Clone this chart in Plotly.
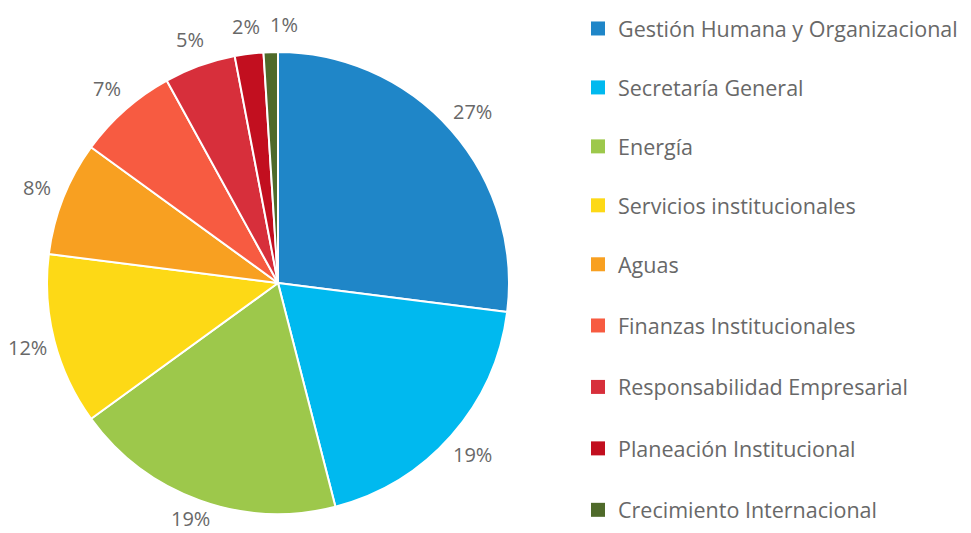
import math
import plotly.graph_objects as go

categories = ["Gestión Humana y Organizacional", "Secretaría General", "Energía",
              "Servicios institucionales", "Aguas", "Finanzas Institucionales",
              "Responsabilidad Empresarial", "Planeación Institucional",
              "Crecimiento Internacional"]
values = [27, 19, 19, 12, 8, 7, 5, 2, 1]
colors = ["#1F86C8", "#00B9EF", "#9DC84B", "#FDD916", "#F8A021",
          "#F75B41", "#D72F3B", "#C20F1F", "#4F6A2A"]

FONT = "Open Sans"
GRAY = "#686868"
W, H = 971, 533
OFF = 8  # page body margin offset

# pie placement (figure pixels)
CX, CY, R = 278 - OFF, 283 - OFF, 231
LABEL_R = 259
LABEL_FS = 20
MIN_SEP = 38  # minimal horizontal gap between neighbouring top labels

fig = go.Figure()
fig.add_trace(go.Pie(
    labels=categories, values=values, sort=False, direction="clockwise",
    rotation=0, marker=dict(colors=colors, line=dict(color="white", width=2)),
    textinfo="none", hoverinfo="label+percent",
    showlegend=False,
    domain=dict(x=[(CX - R) / W, (CX + R) / W],
                y=[1 - (CY + R) / H, 1 - (CY - R) / H]),
))

# percent labels around the pie, positioned from the data
total = sum(values)
cum = 0
pos = []
for v in values:
    mid = (cum + v / 2) / total * 2 * math.pi
    cum += v
    pos.append([CX + LABEL_R * math.sin(mid), CY - LABEL_R * math.cos(mid)])
# simple collision avoidance: push crowded labels apart horizontally
for i in range(1, len(pos)):
    dx = pos[i][0] - pos[i - 1][0]
    if abs(pos[i][1] - pos[i - 1][1]) < 20 and 0 <= dx < MIN_SEP:
        pos[i][0] = pos[i - 1][0] + MIN_SEP
# keep labels inside the visible page
half_box = LABEL_FS * 0.68
for p in pos:
    p[1] = min(p[1], H - OFF - half_box - 1)
for v, (px, py) in zip(values, pos):
    fig.add_annotation(x=px / W, y=1 - py / H, xref="paper", yref="paper",
                       text=f"{round(v / total * 100)}%", showarrow=False,
                       font=dict(family=FONT, size=LABEL_FS, color=GRAY),
                       xanchor="center", yanchor="middle")

for i, (c, col) in enumerate(zip(categories, colors)):
    fig.add_trace(go.Scatter(
        x=[None], y=[None], mode="markers", name=c,
        marker=dict(symbol="square", size=14, color=col),
        legendgroup=f"g{i}", showlegend=True,
        legend="legend" if i < 5 else "legend2",
    ))

leg = dict(xanchor="left", yanchor="top",
           font=dict(family=FONT, size=21.5, color=GRAY),
           itemsizing="trace", bgcolor="rgba(0,0,0,0)")

fig.update_layout(
    width=W, height=H, margin=dict(l=0, r=0, t=0, b=0),
    paper_bgcolor="white", plot_bgcolor="white",
    xaxis=dict(visible=False), yaxis=dict(visible=False),
    legend=dict(x=(598 - 20 - OFF) / W, y=1.0, tracegroupgap=28, **leg),
    legend2=dict(x=(598 - 20 - OFF) / W, y=1 - (327 - 22 - OFF) / H,
                 tracegroupgap=30.5, **leg),
)
fig.write_html("out.html")
